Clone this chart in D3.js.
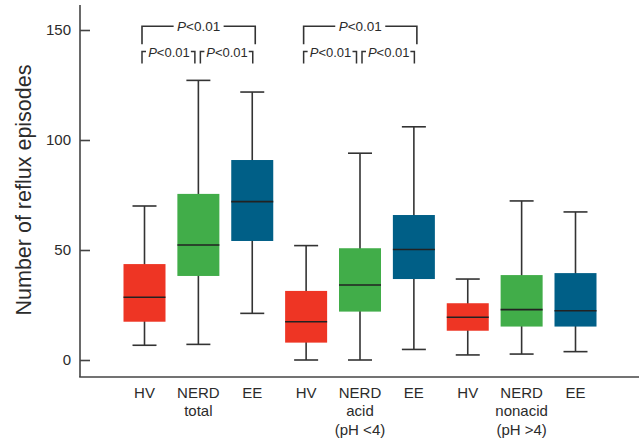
<!DOCTYPE html>
<html><head><meta charset="utf-8">
<script src="https://cdn.jsdelivr.net/npm/d3@7"></script>
<style>body{margin:0;background:#fff}svg{display:block}text{font-family:"Liberation Sans",Arial,Helvetica,sans-serif;fill:#2b2b2b}</style>
</head><body><svg id="c" width="644" height="444"></svg>
<script>
// ---- data ----
const ids = ["HV1","NERD1","EE1","HV2","NERD2","EE2","HV3","NERD3","EE3"];
const groups = ["HV","NERD","EE","HV","NERD","EE","HV","NERD","EE"];
const whiskerLow  = [6.7, 7.1, 21.2, 0.0, 0.0, 4.8, 2.3, 2.7, 3.8];
const q1          = [17.4, 38.2, 54.1, 7.9, 22.0, 36.8, 13.3, 15.2, 15.2];
const medians     = [28.5, 52.3, 72.0, 17.4, 34.1, 50.2, 19.4, 22.9, 22.4];
const q3          = [43.6, 75.5, 90.9, 31.4, 50.8, 65.9, 25.8, 38.6, 39.5];
const whiskerHigh = [70.0, 127.1, 121.8, 52.0, 94.0, 106.0, 36.8, 72.3, 67.3];
const labelLines = [["HV"],["NERD","total"],["EE"],["HV"],["NERD","acid","(pH <4)"],["EE"],["HV"],["NERD","nonacid","(pH >4)"],["EE"]];
const yTicks = [0, 50, 100, 150];
const pText = "P<0.01";
const comparisonSets = [[0,1,2],[3,4,5]];
const colors = {HV:"#ee3524", NERD:"#41ad49", EE:"#005f87"};

// ---- layout ----
const svg = d3.select("#c");
const y = d3.scaleLinear().domain([0,150]).range([360,30]);
const x = d3.scalePoint().domain(ids).range([144.5,575.5]);
const boxW = 42, capW = 24;
const axisCol = "#444", lineCol = "#333";

// axes
const axisX0 = 80, axisYb = 377;
svg.append("line").attr("x1",axisX0).attr("x2",axisX0).attr("y1",5).attr("y2",axisYb)
  .attr("stroke",axisCol).attr("stroke-width",1.6);
svg.append("line").attr("x1",axisX0-0.8).attr("x2",639).attr("y1",axisYb).attr("y2",axisYb)
  .attr("stroke",axisCol).attr("stroke-width",1.6);
const yAx = svg.append("g").attr("transform",`translate(${axisX0},0)`)
  .call(d3.axisRight(y).tickValues(yTicks).tickSize(10).tickFormat(""));
yAx.select(".domain").remove();
yAx.selectAll(".tick line").attr("stroke",axisCol).attr("stroke-width",1.6);
svg.selectAll(".ytl").data(yTicks).join("text").attr("class","ytl")
  .attr("x",71).attr("y",d=>y(d)).attr("dy","0.36em").attr("text-anchor","end")
  .style("font-size","15px").text(d=>d);

svg.append("text").attr("transform","translate(31,190) rotate(-90)")
  .attr("text-anchor","middle").style("font-size","22px")
  .attr("textLength",251).attr("lengthAdjust","spacingAndGlyphs")
  .text("Number of reflux episodes");

// boxes
const g = svg.append("g");
ids.forEach((id,i)=>{
  const cx = x(id);
  g.append("line").attr("x1",cx).attr("x2",cx).attr("y1",y(whiskerLow[i])).attr("y2",y(whiskerHigh[i]))
    .attr("stroke",lineCol).attr("stroke-width",1.6);
  [whiskerLow[i], whiskerHigh[i]].forEach(v=>{
    g.append("line").attr("x1",cx-capW/2).attr("x2",cx+capW/2).attr("y1",y(v)).attr("y2",y(v))
      .attr("stroke",lineCol).attr("stroke-width",1.6);
  });
  g.append("rect").attr("x",cx-boxW/2).attr("width",boxW).attr("y",y(q3[i])).attr("height",y(q1[i])-y(q3[i]))
    .attr("fill",colors[groups[i]]);
  g.append("line").attr("x1",cx-boxW/2).attr("x2",cx+boxW/2).attr("y1",y(medians[i])).attr("y2",y(medians[i]))
    .attr("stroke","#222").attr("stroke-width",1.6);
  labelLines[i].forEach((t,k)=>{
    svg.append("text").attr("x",cx).attr("y",397.5+k*18.5).attr("text-anchor","middle")
      .style("font-size","15px").text(t);
  });
});

// significance brackets
function pLabel(sel, cx, cy, size, ls){
  const t = sel.append("text").attr("x",cx).attr("y",cy).attr("dy","0.35em").attr("text-anchor","middle")
    .style("font-size",size+"px").style("letter-spacing",ls+"px");
  t.append("tspan").style("font-style","italic").text(pText[0]);
  t.append("tspan").text(pText.slice(1));
  return t;
}
const bc = svg.append("g").attr("fill","none");
comparisonSets.forEach(s=>{
  const a = x(ids[s[0]]), b = x(ids[s[1]]), c = x(ids[s[2]]);
  // top bracket
  const ty = 26.3, tleg = 44.3, l0 = a-2.5, r0 = c+3, mid = (l0+r0)/2, gap = 25;
  bc.append("path").attr("d",`M${l0},${tleg}V${ty}H${mid-gap}M${mid+gap},${ty}H${r0}V${tleg}`)
    .attr("stroke",lineCol).attr("stroke-width",1.6);
  pLabel(svg, mid, ty, 13.5, 0);
  // lower brackets
  const ly = 51.5, lleg = 63.5;
  [[a-2.5, b-3.5],[b+2, c+0.5]].forEach(([l,r])=>{
    bc.append("path").attr("d",`M${l},${lleg}V${ly}H${l+4}M${r-4},${ly}H${r}V${lleg}`)
      .attr("stroke",lineCol).attr("stroke-width",1.5);
    pLabel(svg,(l+r)/2+0.5, ly+0.8, 13, 0);
  });
});
</script></body></html>
